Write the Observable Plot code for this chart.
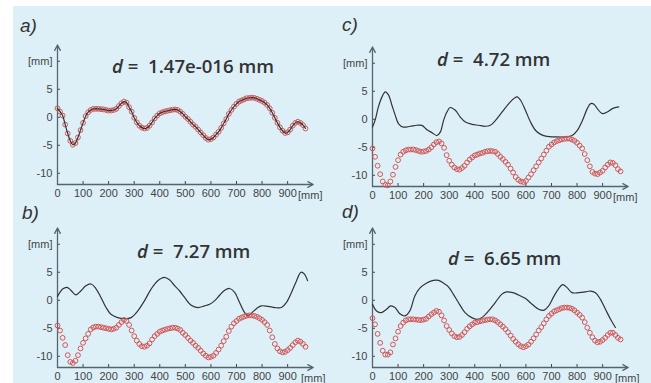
<!DOCTYPE html>
<html>
<head>
<meta charset="utf-8">
<script src="https://cdn.jsdelivr.net/npm/d3@7"></script>
<script src="https://cdn.jsdelivr.net/npm/@observablehq/plot@0.6"></script>
<style>
  html, body { margin: 0; padding: 0; background: #fff; }
  #wrap { position: relative; width: 651px; height: 383px; overflow: hidden; background: #fff; }
  #bg { position: absolute; left: 13px; top: 6px; right: 0; bottom: 0; background: #ddf0f8; }
  .panel { position: absolute; }
  #overlay { position: absolute; left: 0; top: 0; }
  #overlay .ttl text { white-space: pre; }
</style>
</head>
<body>
<div id="wrap">
  <div id="bg"></div>
  <div class="panel" id="pa" style="left:0px;top:0px"></div>
  <div class="panel" id="pc" style="left:315px;top:2px"></div>
  <div class="panel" id="pb" style="left:0px;top:183px"></div>
  <div class="panel" id="pd" style="left:315px;top:183px"></div>
  <svg id="overlay" width="651" height="383" xmlns="http://www.w3.org/2000/svg">
    <g font-family="'Liberation Sans', Arial, sans-serif" font-style="italic" font-size="19" fill="#333">
      <text x="20" y="31.5">a)</text>
      <text x="342" y="30.5">c)</text>
      <text x="22" y="219">b)</text>
      <text x="342" y="218">d)</text>
    </g>
    <g class="ttl" font-family="'Open Sans', sans-serif" font-weight="600" font-size="18.6" fill="#333">
      <text x="112" y="73"><tspan font-style="italic">d</tspan> =  1.47e-016 mm</text>
      <text x="437" y="66"><tspan font-style="italic">d</tspan> =  4.72 mm</text>
      <text x="137" y="258"><tspan font-style="italic">d</tspan> =  7.27 mm</text>
      <text x="448" y="265"><tspan font-style="italic">d</tspan> =  6.65 mm</text>
    </g>
    <g font-family="'Liberation Sans', Arial, sans-serif" font-size="11" fill="#444">
      <text x="298" y="198.5">[mm]</text>
      <text x="613" y="200.5">[mm]</text>
      <text x="301" y="381.5">[mm]</text>
      <text x="615" y="381.5">[mm]</text>
    </g>
  </svg>
</div>
<script>
// x positions of the measured points [mm]
const xs = [0,10,20,30,40,50,60,70,80,90,100,110,120,130,140,150,160,170,180,190,200,210,220,230,240,250,260,270,280,290,300,310,320,330,340,350,360,370,380,390,400,410,420,430,440,450,460,470,480,490,500,510,520,530,540,550,560,570,580,590,600,610,620,630,640,650,660,670,680,690,700,710,720,730,740,750,760,770,780,790,800,810,820,830,840,850,860,870,880,890,900,910,920,930,940,950,960,970];

// red circle series, one per panel
const aRed = [1.6,1.0,0.3,-1.3,-2.9,-4.2,-4.9,-4.6,-3.6,-2.3,
  -1.0,0.2,0.9,1.3,1.5,1.5,1.5,1.45,1.4,1.3,
  1.2,1.2,1.3,1.5,2.0,2.5,2.8,2.6,1.8,1.0,
  -0.1,-0.9,-1.5,-1.85,-2.0,-1.9,-1.5,-0.9,-0.2,0.3,
  0.7,0.9,1.05,1.15,1.25,1.35,1.4,1.3,1.0,0.6,
  0.1,-0.3,-0.8,-1.3,-1.7,-2.2,-2.7,-3.2,-3.7,-4.0,
  -3.9,-3.6,-3.1,-2.6,-1.9,-1.1,-0.3,0.6,1.3,1.9,
  2.4,2.8,3.0,3.2,3.4,3.45,3.5,3.45,3.3,3.1,
  2.9,2.6,2.2,1.6,0.8,-0.1,-1.0,-1.8,-2.4,-2.8,
  -2.7,-2.2,-1.5,-1.0,-0.8,-1.0,-1.4,-2.0];

const bRed = [-4.5,-5.4,-6.7,-8.0,-9.8,-11.0,-11.2,-10.8,-9.8,-8.6,
  -7.6,-6.8,-6.0,-5.2,-4.85,-4.7,-4.7,-4.8,-4.9,-5.0,
  -5.1,-5.2,-5.1,-4.9,-4.4,-3.9,-3.5,-3.7,-4.4,-5.4,
  -6.4,-7.2,-7.8,-8.2,-8.3,-8.1,-7.7,-7.0,-6.4,-6.0,
  -5.6,-5.4,-5.25,-5.1,-5.0,-4.9,-4.9,-5.05,-5.3,-5.8,
  -6.2,-6.7,-7.2,-7.6,-8.1,-8.5,-9.0,-9.5,-9.9,-10.2,
  -10.1,-9.9,-9.4,-8.8,-8.1,-7.3,-6.5,-5.5,-4.7,-4.1,
  -3.7,-3.3,-3.1,-2.9,-2.75,-2.7,-2.7,-2.8,-2.95,-3.2,
  -3.5,-3.9,-4.4,-5.4,-6.6,-7.8,-8.6,-9.1,-9.3,-9.2,
  -8.9,-8.5,-8.0,-7.5,-7.2,-7.4,-7.8,-8.3];

const cRed = [-5.2,-6.7,-8.3,-9.8,-11.1,-11.7,-11.8,-11.1,-9.9,-8.5,
  -7.3,-6.3,-5.8,-5.55,-5.4,-5.4,-5.4,-5.5,-5.65,-5.8,
  -5.75,-5.65,-5.4,-5.0,-4.5,-4.1,-3.95,-4.3,-5.1,-6.4,
  -7.4,-8.1,-8.6,-8.9,-9.0,-8.7,-8.3,-7.7,-7.2,-6.8,
  -6.45,-6.3,-6.1,-6.0,-5.8,-5.7,-5.65,-5.7,-5.8,-6.2,
  -6.7,-7.1,-7.6,-8.1,-8.8,-9.5,-10.3,-10.8,-11.1,-11.2,
  -11.0,-10.4,-9.8,-9.1,-8.4,-7.7,-7.0,-6.3,-5.6,-4.9,
  -4.5,-4.15,-3.9,-3.75,-3.6,-3.5,-3.45,-3.45,-3.6,-3.85,
  -4.2,-4.7,-5.2,-6.2,-7.3,-8.4,-9.4,-9.7,-9.8,-9.5,
  -9.2,-8.6,-8.1,-7.7,-7.8,-8.2,-8.9,-9.3];

const dRed = [-3.2,-4.3,-6.0,-7.6,-9.0,-9.7,-9.7,-9.3,-7.9,-6.8,
  -5.6,-4.6,-4.0,-3.6,-3.4,-3.4,-3.4,-3.45,-3.5,-3.55,
  -3.45,-3.3,-2.9,-2.5,-2.2,-1.9,-2.05,-2.7,-3.6,-4.6,
  -5.3,-5.9,-6.4,-6.6,-6.55,-6.2,-5.7,-5.1,-4.65,-4.3,
  -4.0,-3.9,-3.75,-3.65,-3.55,-3.45,-3.4,-3.4,-3.6,-3.9,
  -4.3,-4.7,-5.15,-5.7,-6.3,-6.9,-7.4,-7.85,-8.2,-8.4,
  -8.2,-7.9,-7.4,-6.8,-6.1,-5.4,-4.8,-4.1,-3.4,-2.8,
  -2.4,-2.0,-1.8,-1.6,-1.4,-1.3,-1.3,-1.35,-1.5,-1.8,
  -2.2,-2.6,-3.1,-3.9,-4.9,-5.8,-6.6,-7.2,-7.5,-7.4,
  -7.1,-6.7,-6.2,-5.8,-5.8,-6.2,-6.7,-7.0];

// black line series (panel a's line is the red series itself)
const bLineX = [0,20,37,52,72,92,111,131,150,170,190,209,235,261,288,314,340,366,392,418,438,458,477,497,523,549,575,595,614,634,654,673,693,712,732,745,758,778,797,824,850,876,895,915,935,952,965,978];
const bLineY = [0.7,2.0,2.3,1.8,0.96,1.7,2.6,2.9,2.1,0.5,-1.3,-2.5,-3.1,-3.3,-3.1,-1.9,-0.1,2.0,3.5,4.1,3.65,2.6,1.7,0.5,-0.9,-1.3,-1.0,-0.7,-0.1,0.9,1.8,2.1,1.4,-0.4,-2.2,-2.8,-2.3,-1.5,-1.0,-1.1,-1.3,-1.3,-0.4,1.4,3.5,5.0,4.7,3.5];

const cLineX = [0,10,23,37,50,63,76,89,102,121,148,174,193,213,233,252,265,278,291,304,324,343,363,389,415,441,461,481,507,533,553,566,579,598,618,638,658,677,716,755,781,801,821,840,853,866,879,899,918,938,963];
const cLineY = [-1.4,-0.2,2.2,4.0,4.9,4.3,2.5,0.7,-0.8,-1.4,-1.25,-1.07,-1.1,-1.85,-2.4,-2.9,-2.3,-0.2,1.3,2.1,1.6,0.4,-0.5,-0.9,-1.07,-1.25,-1.07,-0.2,1.3,2.8,3.7,4.0,3.4,1.6,-0.5,-2.0,-2.7,-3.0,-3.15,-3.15,-2.9,-2.0,-0.2,1.9,2.8,2.7,1.9,1.0,1.3,1.9,2.2];

const dLineX = [0,16,35,55,71,88,107,127,146,166,186,212,238,258,277,297,316,336,362,388,408,427,454,480,506,525,545,571,597,624,650,669,689,708,728,744,761,780,807,833,852,872,891,911,931,950];
const dLineY = [-0.7,-1.9,-2.2,-1.6,-1.0,-1.3,-2.4,-2.8,-1.9,0.8,2.2,3.1,3.55,3.55,3.1,2.4,1.1,-0.4,-2.2,-3.1,-3.4,-3.1,-1.9,-0.4,1.1,1.5,1.4,0.95,0.35,-0.7,-1.6,-1.8,-1.0,0.6,2.1,2.8,2.25,1.36,1.36,1.5,1.65,1.36,0.2,-1.6,-3.4,-4.85];

// axes
const xDomain = [0, 1000];
const yDomain = [-12, 12.9];
const xTicks = [0,100,200,300,400,500,600,700,800,900];
const yTicks = [-10,-5,0,5,10];

const AXIS = "#56656d";
const RED = "#d25656";
const LINE = "#333";

function makePanel(red, lx, ly, lineOnTop) {
  const pts = xs.map((x, i) => ({x, y: red[i]}));
  const ln = lx.map((x, i) => ({x, y: ly[i]}));
  const axisLines = [
    {x1: xDomain[0], y1: yDomain[0], x2: xDomain[0], y2: yDomain[1]},
    {x1: xDomain[0], y1: yDomain[0], x2: xDomain[1], y2: yDomain[0]}
  ];
  const dots = Plot.dot(pts, {x: "x", y: "y", r: 2.4, stroke: RED, strokeWidth: 1, fill: "none"});
  const line = Plot.line(ln, {x: "x", y: "y", stroke: LINE, strokeWidth: 1.2, curve: "catmull-rom"});
  return Plot.plot({
    width: 325, height: 200,
    marginLeft: 57, marginRight: 12.3, marginTop: 44.5, marginBottom: 16,
    x: {domain: xDomain},
    y: {domain: yDomain},
    style: {background: "transparent", overflow: "visible", fontFamily: "'Liberation Sans', Arial, sans-serif", fontSize: "11px"},
    marks: [
      Plot.axisY(yTicks, {tickSize: 3, dx: 3, tickPadding: 5, color: "#444",
        tickFormat: d => d === 10 ? "[mm]" : String(d)}),
      Plot.axisX(xTicks, {tickSize: 3, dy: -3, tickPadding: 5, color: "#444",
        tickFormat: d => String(d)}),
      Plot.arrow(axisLines, {x1: "x1", y1: "y1", x2: "x2", y2: "y2", stroke: AXIS, strokeWidth: 1.3, headLength: 7, headAngle: 55, bend: 0}),
      ...(lineOnTop ? [dots, line] : [line, dots])
    ]
  });
}

document.getElementById("pa").appendChild(makePanel(aRed, xs, aRed, true));
document.getElementById("pb").appendChild(makePanel(bRed, bLineX, bLineY, false));
document.getElementById("pc").appendChild(makePanel(cRed, cLineX, cLineY, false));
document.getElementById("pd").appendChild(makePanel(dRed, dLineX, dLineY, false));
</script>
</body>
</html>
